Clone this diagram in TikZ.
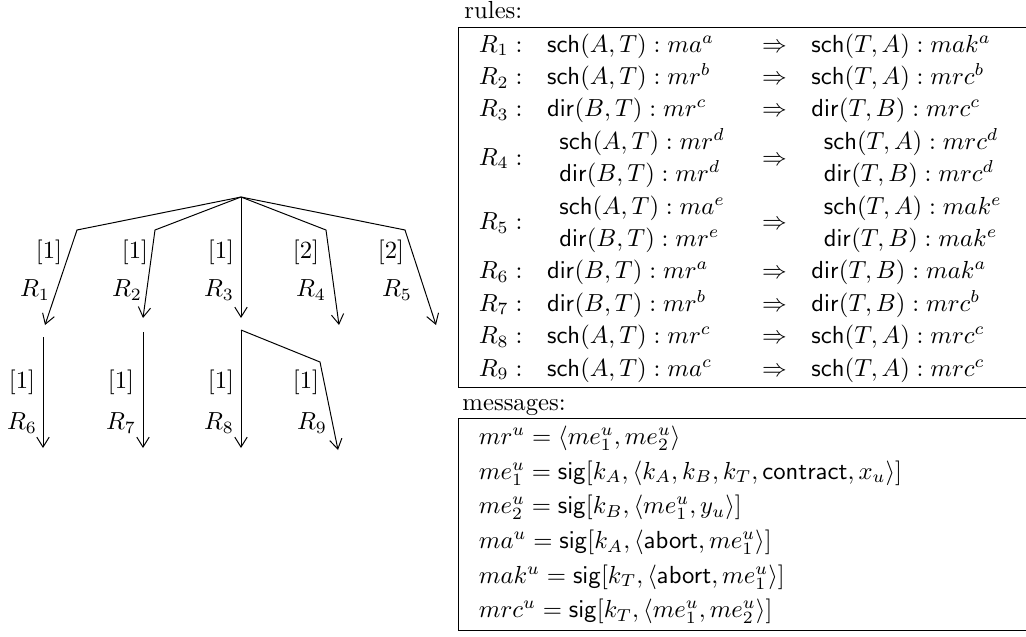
\documentclass[tikz,border=0pt]{standalone}
\usepackage{amsmath}
\usetikzlibrary{arrows.meta}
\tikzset{
  branch/.style={-{Straight Barb[length=4pt,width=5pt]}, thin},
  wlab/.style={inner sep=0pt},
  rlab/.style={inner sep=0pt},
  tbl/.style={anchor=north west, inner sep=0pt},
  ttl/.style={anchor=base west, inner sep=0pt},
}
\begin{document}
\begin{tikzpicture}[x=0.405pt, y=-0.405pt]
\useasboundingbox (0,0) rectangle (1026,637);
% tree, first level
\coordinate (root) at (241,197);
\coordinate (k1) at (77,230);
\coordinate (k2) at (155,230);
\coordinate (k4) at (326,230);
\coordinate (k5) at (405,230);
\coordinate (t1) at (45,325);
\coordinate (t2) at (143,318);
\coordinate (t3) at (241,318);
\coordinate (t4) at (339,325);
\coordinate (t5) at (436,325);
\draw[branch] (root) -- (k1) -- (t1);
\draw[branch] (root) -- (k2) -- (t2);
\draw[branch] (root) -- (t3);
\draw[branch] (root) -- (k4) -- (t4);
\draw[branch] (root) -- (k5) -- (t5);
\node[wlab] (w1) at (49,252) {$[1]$};
\node[wlab] (w2) at (135,252) {$[1]$};
\node[wlab] (w3) at (221,252) {$[1]$};
\node[wlab] (w4) at (306,252) {$[2]$};
\node[wlab] (w5) at (391,252) {$[2]$};
\node[rlab] (r1) at (35,290) {$R_1$};
\node[rlab] (r2) at (127,290) {$R_2$};
\node[rlab] (r3) at (219,290) {$R_3$};
\node[rlab] (r4) at (311,290) {$R_4$};
\node[rlab] (r5) at (397,290) {$R_5$};
% tree, second level
\coordinate (s6) at (43,337);
\coordinate (s7) at (143,332);
\coordinate (s8) at (241,330);
\coordinate (k9) at (320,362);
\coordinate (t6) at (43,448);
\coordinate (t7) at (143,448);
\coordinate (t8) at (241,448);
\coordinate (t9) at (338,450);
\draw[branch] (s6) -- (t6);
\draw[branch] (s7) -- (t7);
\draw[branch] (s8) -- (t8);
\draw[branch] (s8) -- (k9) -- (t9);
\node[wlab] (w6) at (22,382) {$[1]$};
\node[wlab] (w7) at (121,382) {$[1]$};
\node[wlab] (w8) at (221,382) {$[1]$};
\node[wlab] (w9) at (306,382) {$[1]$};
\node[rlab] (r6) at (22,423) {$R_6$};
\node[rlab] (r7) at (121,423) {$R_7$};
\node[rlab] (r8) at (219,423) {$R_8$};
\node[rlab] (r9) at (312,423) {$R_9$};
% rules
\node[ttl] (rulestitle) at (464,19) {rules:};
\draw (1026,27) -- (458,27) -- (458,387) -- (1026,387);
\node[tbl] (rules) at (466,29) {\renewcommand{\arraystretch}{1.093}$\begin{array}{llcl}
R_1: & \mathsf{sch}(A,T) : ma^a & \Rightarrow & \mathsf{sch}(T,A) : mak^a \\
R_2: & \mathsf{sch}(A,T) : mr^b & \Rightarrow & \mathsf{sch}(T,A) : mrc^b \\
R_3: & \mathsf{dir}(B,T) : mr^c & \Rightarrow & \mathsf{dir}(T,B) : mrc^c \\
R_4: & \begin{array}{l} \mathsf{sch}(A,T) : mr^d \\ \mathsf{dir}(B,T) : mr^d \end{array} & \Rightarrow &
       \begin{array}{l} \mathsf{sch}(T,A) : mrc^d \\ \mathsf{dir}(T,B) : mrc^d \end{array} \\
R_5: & \begin{array}{l} \mathsf{sch}(A,T) : ma^e \\ \mathsf{dir}(B,T) : mr^e \end{array} & \Rightarrow &
       \begin{array}{l} \mathsf{sch}(T,A) : mak^e \\ \mathsf{dir}(T,B) : mak^e \end{array} \\
R_6: & \mathsf{dir}(B,T) : mr^a & \Rightarrow & \mathsf{dir}(T,B) : mak^a \\
R_7: & \mathsf{dir}(B,T) : mr^b & \Rightarrow & \mathsf{dir}(T,B) : mrc^b \\
R_8: & \mathsf{sch}(A,T) : mr^c & \Rightarrow & \mathsf{sch}(T,A) : mrc^c \\
R_9: & \mathsf{sch}(A,T) : ma^c & \Rightarrow & \mathsf{sch}(T,A) : mrc^c
\end{array}$};
% messages
\node[ttl] (msgtitle) at (462,410) {messages:};
\draw (1026,418) -- (458,418) -- (458,630) -- (1026,630);
\node[tbl] (msgs) at (466,420) {\renewcommand{\arraystretch}{1.167}$\begin{array}{l}
mr^u = \langle me_1^u, me_2^u \rangle \\
me_1^u = \mathsf{sig}[k_A, \langle k_A, k_B, k_T, \mathsf{contract}, x_u \rangle] \\
me_2^u = \mathsf{sig}[k_B, \langle me_1^u, y_u \rangle] \\
ma^u = \mathsf{sig}[k_A, \langle \mathsf{abort}, me_1^u \rangle] \\
mak^u = \mathsf{sig}[k_T, \langle \mathsf{abort}, me_1^u \rangle] \\
mrc^u = \mathsf{sig}[k_T, \langle me_1^u, me_2^u \rangle]
\end{array}$};
\end{tikzpicture}
\end{document}
